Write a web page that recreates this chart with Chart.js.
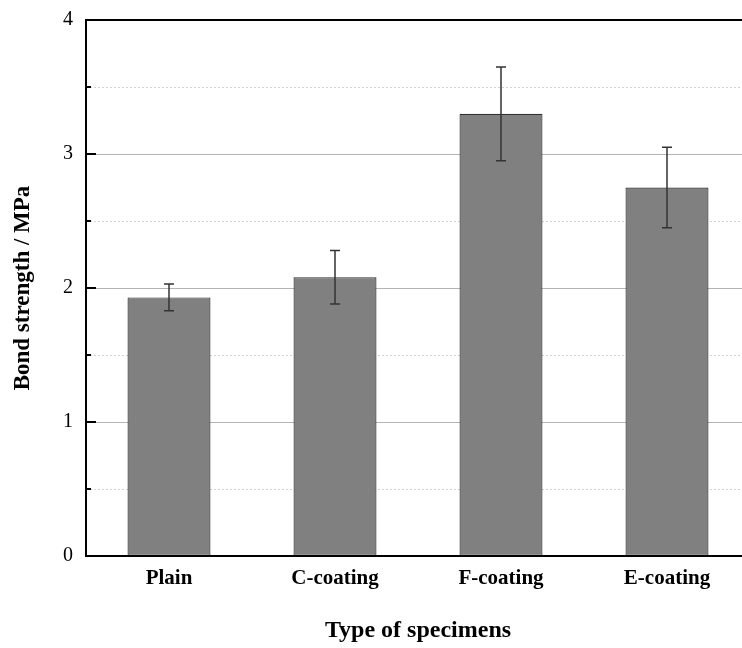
<!DOCTYPE html>
<html>
<head>
<meta charset="utf-8">
<script src="https://cdn.jsdelivr.net/npm/chart.js@4.4.0/dist/chart.umd.min.js"></script>
<style>
html,body{margin:0;padding:0;background:#fff;overflow:hidden;}
#wrap{width:760px;height:648px;position:relative;}
</style>
</head>
<body>
<div id="wrap"><canvas id="c" width="760" height="648"></canvas></div>
<script>
const categories = ["Plain", "C-coating", "F-coating", "E-coating"];
const strength = [1.93, 2.08, 3.30, 2.75];
const errLow = [1.83, 1.88, 2.95, 2.45];
const errHigh = [2.03, 2.28, 3.65, 3.05];
const yMajorTicks = [0, 1, 2, 3, 4];
const yMinorTicks = [0.5, 1.5, 2.5, 3.5];

const deco = {
  id: 'deco',
  beforeDatasetsDraw(chart) {
    const ctx = chart.ctx, a = chart.chartArea, y = chart.scales.y;
    ctx.save();
    ctx.strokeStyle = '#d2d2d2';
    ctx.lineWidth = 1;
    ctx.setLineDash([2, 2]);
    yMinorTicks.forEach(v => {
      const py = Math.round(y.getPixelForValue(v)) + 0.5;
      ctx.beginPath(); ctx.moveTo(a.left, py); ctx.lineTo(a.right, py); ctx.stroke();
    });
    ctx.setLineDash([]);
    ctx.strokeStyle = '#b4b4b4';
    yMajorTicks.forEach(v => {
      if (v === 0 || v === 4) return;
      const py = Math.round(y.getPixelForValue(v)) + 0.5;
      ctx.beginPath(); ctx.moveTo(a.left, py); ctx.lineTo(a.right, py); ctx.stroke();
    });
    ctx.restore();
  },
  afterDatasetsDraw(chart) {
    const ctx = chart.ctx, a = chart.chartArea, y = chart.scales.y;
    const meta = chart.getDatasetMeta(0);
    ctx.save();
    ctx.strokeStyle = '#333';
    ctx.lineWidth = 1.5;
    meta.data.forEach((bar, i) => {
      const x = bar.x;
      const yl = y.getPixelForValue(errLow[i]);
      const yh = y.getPixelForValue(errHigh[i]);
      ctx.beginPath();
      ctx.moveTo(x, yl); ctx.lineTo(x, yh);
      ctx.moveTo(x - 5, yl); ctx.lineTo(x + 5, yl);
      ctx.moveTo(x - 5, yh); ctx.lineTo(x + 5, yh);
      ctx.stroke();
    });
    // axes
    ctx.strokeStyle = '#000';
    ctx.lineWidth = 2;
    ctx.beginPath();
    ctx.moveTo(a.left, a.top); ctx.lineTo(a.left, a.bottom);
    ctx.moveTo(a.left - 1, a.bottom); ctx.lineTo(a.right, a.bottom);
    ctx.moveTo(a.left - 1, a.top); ctx.lineTo(a.right, a.top);
    ctx.stroke();
    // inward ticks
    yMajorTicks.forEach(v => {
      const py = y.getPixelForValue(v);
      ctx.beginPath(); ctx.moveTo(a.left, py); ctx.lineTo(a.left + 10, py); ctx.stroke();
    });
    yMinorTicks.forEach(v => {
      const py = y.getPixelForValue(v);
      ctx.beginPath(); ctx.moveTo(a.left, py); ctx.lineTo(a.left + 5, py); ctx.stroke();
    });
    ctx.restore();
  }
};

new Chart(document.getElementById('c'), {
  type: 'bar',
  data: {
    labels: categories,
    datasets: [{
      data: strength,
      backgroundColor: '#808080',
      borderColor: '#333333',
      borderWidth: 1.2,
      borderSkipped: false,
      categoryPercentage: 1,
      barPercentage: 0.5
    }]
  },
  options: {
    responsive: false,
    animation: false,
    events: [],
    layout: { padding: { top: 20, right: 10, left: 0, bottom: 0 } },
    plugins: { legend: { display: false }, tooltip: { enabled: false } },
    scales: {
      x: {
        grid: { display: false, drawTicks: false },
        border: { display: false },
        ticks: { color: '#000', padding: 10, font: { family: 'Liberation Serif', size: 21, weight: 'bold' } },
        title: { display: true, text: 'Type of specimens', color: '#000', padding: { top: 0, bottom: 3 },
                 font: { family: 'Liberation Serif', size: 24, weight: 'bold' } },
        afterFit(s) { s.height = 92; s.paddingLeft = 0; s.paddingRight = 0; }
      },
      y: {
        min: 0, max: 4,
        afterBuildTicks(s) { s.ticks = yMajorTicks.map(v => ({ value: v })); },
        grid: { display: false, drawTicks: false },
        border: { display: false },
        ticks: { color: '#000', padding: 13, font: { family: 'Liberation Serif', size: 20 } },
        title: { display: true, text: 'Bond strength / MPa', color: '#000', padding: { top: 9, bottom: 0 },
                 font: { family: 'Liberation Serif', size: 23, weight: 'bold' } },
        afterFit(s) { s.width = 86; s.paddingTop = 0; s.paddingBottom = 0; }
      }
    }
  },
  plugins: [deco]
});
</script>
</body>
</html>
